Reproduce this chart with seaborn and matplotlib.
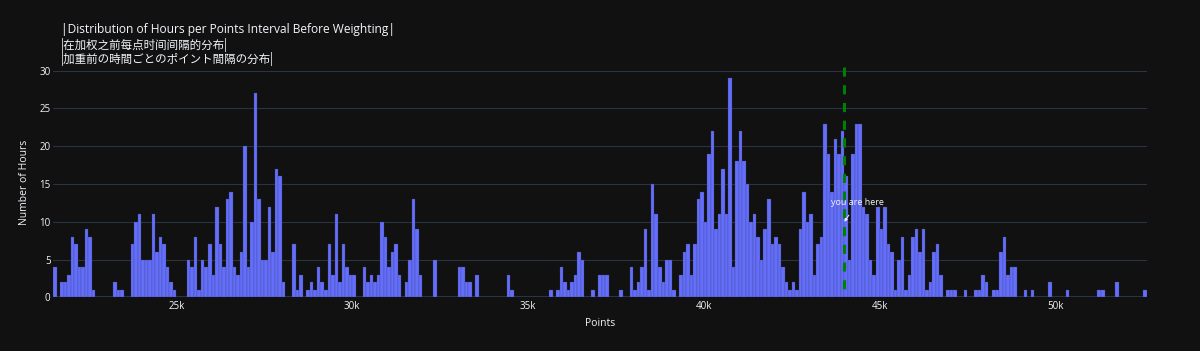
import numpy as np
import pandas as pd
import matplotlib
matplotlib.use("Agg")
import matplotlib.pyplot as plt
import seaborn as sns

# ---------------- data ----------------
bin_start = 21500
bin_width = 100
hours_per_bin = [
    4, 0, 2, 2, 3, 8, 7, 4, 4, 9, 8, 1, 0, 0, 0, 0, 0, 2, 1, 1,
    0, 0, 7, 10, 11, 5, 5, 5, 11, 6, 8, 7, 4, 2, 1, 0, 0, 0, 5, 4,
    8, 1, 5, 4, 7, 3, 12, 7, 4, 13, 14, 4, 3, 6, 20, 4, 10, 27, 13, 5,
    5, 12, 6, 17, 16, 2, 0, 0, 7, 1, 3, 0, 1, 2, 1, 4, 2, 1, 7, 3,
    11, 2, 7, 4, 3, 3, 0, 0, 4, 2, 3, 2, 3, 10, 8, 4, 6, 7, 3, 0,
    2, 5, 13, 9, 3, 0, 0, 0, 5, 0, 0, 0, 0, 0, 0, 4, 4, 2, 2, 0,
    3, 0, 0, 0, 0, 0, 0, 0, 0, 3, 1, 0, 0, 0, 0, 0, 0, 0, 0, 0,
    0, 1, 0, 1, 4, 2, 1, 2, 3, 6, 5, 0, 0, 1, 0, 3, 3, 3, 0, 0,
    0, 1, 0, 0, 4, 1, 2, 4, 9, 1, 15, 11, 4, 2, 5, 5, 1, 0, 3, 6,
    7, 3, 7, 13, 14, 10, 19, 22, 9, 11, 17, 11, 29, 4, 18, 22, 18, 15, 10, 11,
    8, 5, 9, 13, 7, 8, 7, 4, 2, 1, 2, 1, 9, 14, 10, 11, 3, 7, 8, 23,
    19, 14, 21, 19, 22, 16, 5, 19, 23, 23, 12, 11, 5, 3, 12, 9, 12, 7, 6, 1,
    5, 8, 1, 3, 8, 9, 6, 9, 1, 2, 6, 7, 3, 0, 1, 1, 1, 0, 0, 1,
    0, 0, 1, 1, 3, 2, 0, 1, 1, 6, 8, 3, 4, 4, 0, 0, 1, 0, 1, 0,
    0, 0, 0, 2, 0, 0, 0, 0, 1, 0, 0, 0, 0, 0, 0, 0, 0, 1, 1, 0,
    0, 0, 2, 0, 0, 0, 0, 0, 0, 0, 1,
]
x_ticks = [25000, 30000, 35000, 40000, 45000, 50000]
x_tick_labels = ["25k", "30k", "35k", "40k", "45k", "50k"]
y_ticks = [0, 5, 10, 15, 20, 25, 30]
marker_x = 44000
marker_y = 10
title_lines = [
    "|Distribution of Hours per Points Interval Before Weighting|",
    "|在加权之前每点时间间隔的分布|",
    "|加重前の時間ごとのポイント間隔の分布|",
]

n_bins = len(hours_per_bin)
edges = [float(bin_start + bin_width * i) for i in range(n_bins + 1)]
df = pd.DataFrame({"points": [e + bin_width / 2 for e in edges[:-1]],
                   "hours": hours_per_bin})

# ---------------- style ----------------
BG = "#111111"
GRID = "#283442"
FG = "#f2f5fa"
BAR = "#636efa"

sns.set_theme(style="dark")
plt.rcParams["font.family"] = ["Open Sans", "Noto Sans CJK SC", "DejaVu Sans"]

W, H = 1200, 351
fig = plt.figure(figsize=(W / 100, H / 100), dpi=100, facecolor=BG)
left, right, top, bottom = 53.3, 1146.7, 66.7, 297.3
ax = fig.add_axes([left / W, 1 - bottom / H, (right - left) / W, (bottom - top) / H])
ax.set_facecolor(BG)

sns.histplot(data=df, x="points", weights="hours", bins=edges, ax=ax,
             color=BAR, alpha=1, edgecolor="#3a3f7a", linewidth=0.2, zorder=2)

ax.set_xlim(edges[0], edges[-1])
ax.set_ylim(0, max(hours_per_bin) * 1.0526)
ax.set_xticks(x_ticks)
ax.set_xticklabels(x_tick_labels)
ax.set_yticks(y_ticks)
for s in ax.spines.values():
    s.set_visible(False)
ax.grid(False)
ax.set_axisbelow(True)
for yv in y_ticks:
    ax.axhline(yv, color=GRID, lw=1.4 if yv == 0 else 0.8, zorder=0.5)
ax.tick_params(axis="both", length=0, colors=FG, labelsize=7)
ax.tick_params(axis="x", pad=3)
ax.tick_params(axis="y", pad=2)

ax.set_xlabel("Points", color=FG, fontsize=7.5, labelpad=4)
ax.set_ylabel("Number of Hours", color=FG, fontsize=7.5, labelpad=7)

# vertical marker line
ax.plot([marker_x, marker_x], [1, 0], transform=ax.get_xaxis_transform(),
        color="#008000", lw=2.2, dashes=(3, 2.8), zorder=4)

ax.annotate("you are here", xy=(marker_x, marker_y), xytext=(13, 19),
            textcoords="offset pixels", color=FG, fontsize=6.5,
            ha="center", va="center", zorder=5,
            arrowprops=dict(arrowstyle="-|>,head_length=0.25,head_width=0.12",
                            color=FG, lw=0.7, shrinkA=4, shrinkB=0))

# title
fams = [["Open Sans", "DejaVu Sans"],
        ["Noto Sans CJK SC", "DejaVu Sans"],
        ["Noto Sans CJK JP", "DejaVu Sans"]]
sizes = [8.65, 8.3, 8.3]
for line, yc, fam, fs in zip(title_lines, [30, 44.5, 59.5], fams, sizes):
    fig.text(61 / W, 1 - yc / H, line, color=FG, fontsize=fs,
             ha="left", va="center", family=fam)

fig.savefig("out.png", dpi=100, facecolor=BG)
